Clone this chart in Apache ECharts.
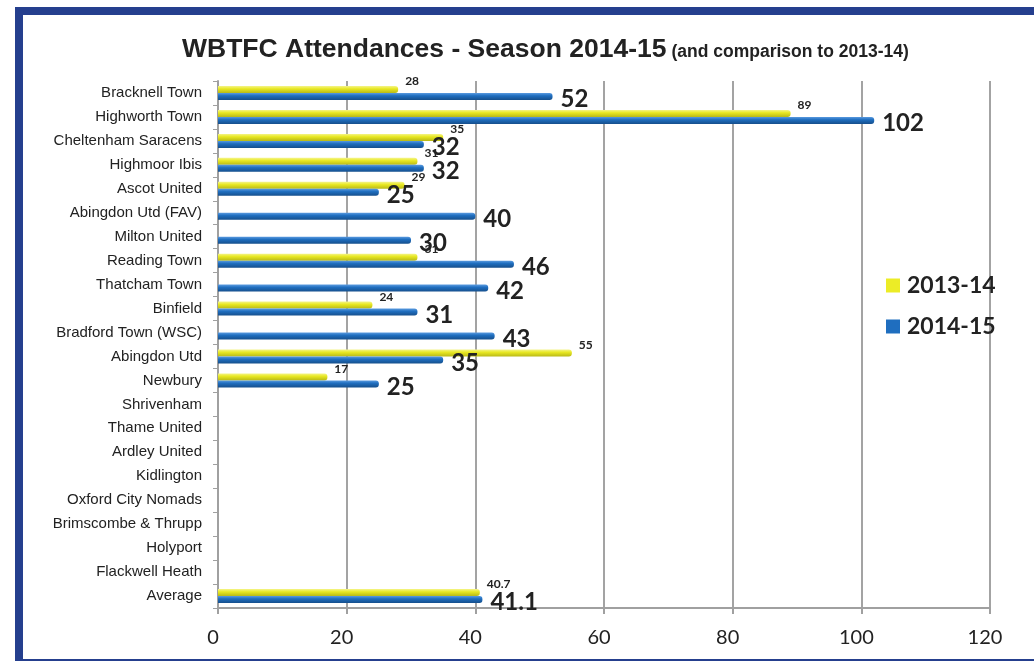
<!doctype html>
<html>
<head>
<meta charset="utf-8">
<title>WBTFC Attendances</title>
<script src="https://cdn.jsdelivr.net/npm/echarts@6/dist/echarts.min.js"></script>
<style>
  html, body { margin: 0; padding: 0; background: #fff; }
  #container { width: 1034px; height: 661px; }
</style>
</head>
<body>
<div id="container"></div>
<script type="text/javascript">
// teams, top to bottom
var teams = ['Bracknell Town', 'Highworth Town', 'Cheltenham Saracens', 'Highmoor Ibis', 'Ascot United',
  'Abingdon Utd (FAV)', 'Milton United', 'Reading Town', 'Thatcham Town', 'Binfield',
  'Bradford Town (WSC)', 'Abingdon Utd', 'Newbury', 'Shrivenham', 'Thame United', 'Ardley United',
  'Kidlington', 'Oxford City Nomads', 'Brimscombe & Thrupp', 'Holyport', 'Flackwell Heath', 'Average'];
// 2013-14 attendances
var season1314 = [28, 89, 35, 31, 29, null, null, 31, null, 24, null, 55, 17,
  null, null, null, null, null, null, null, null, 40.7];
// 2014-15 attendances
var season1415 = [52, 102, 32, 32, 25, 40, 30, 46, 42, 31, 43, 35, 25,
  null, null, null, null, null, null, null, null, 41.1];
var xTicks = [0, 20, 40, 60, 80, 100, 120];

var yellow = new echarts.graphic.LinearGradient(0, 0, 0, 1, [
  { offset: 0, color: '#f4f48a' }, { offset: 0.4, color: '#e8e823' }, { offset: 1, color: '#b9b916' }]);
var blue = new echarts.graphic.LinearGradient(0, 0, 0, 1, [
  { offset: 0, color: '#5b9be0' }, { offset: 0.4, color: '#1f6ebf' }, { offset: 1, color: '#164f8c' }]);

var option = {
  backgroundColor: '#fff',
  animation: false,
  title: {
    left: 177,
    top: 31,
    text: '{a|WBTFC Attendances - Season 2014-15} {b|(and comparison to 2013-14)}',
    textStyle: {
      rich: {
        a: { fontFamily: 'Liberation Sans', fontWeight: 'bold', fontSize: 26.5, color: '#222' },
        b: { fontFamily: 'Liberation Sans', fontWeight: 'bold', fontSize: 17.5, color: '#222', padding: [5, 0, 0, 0] }
      }
    }
  },
  legend: {
    orient: 'vertical',
    left: 881,
    top: 269,
    itemWidth: 14,
    itemHeight: 14,
    itemGap: 18,
    icon: 'rect',
    data: [
      { name: '2013-14', itemStyle: { color: '#ecec26' } },
      { name: '2014-15', itemStyle: { color: '#1f6ebf' } }
    ],
    textStyle: { fontFamily: 'Lato', fontWeight: 'bold', fontSize: 23, color: '#222', padding: [0, 0, 0, 2] }
  },
  grid: { left: 218, right: 44, top: 81, bottom: 53, containLabel: false },
  xAxis: {
    type: 'value',
    min: 0,
    max: 120,
    interval: 20,
    axisLine: { show: true, lineStyle: { color: '#a0a0a0', width: 2 } },
    axisTick: { show: true, length: 6, lineStyle: { color: '#a0a0a0', width: 2 } },
    splitLine: { show: true, lineStyle: { color: '#a3a3a3', width: 2 } },
    axisLabel: {
      margin: 20,
      padding: [0, 10, 0, 0],
      fontFamily: 'Lato',
      fontSize: 20,
      color: '#222',
      formatter: function (v) { return xTicks.indexOf(v) >= 0 ? String(v) : ''; }
    }
  },
  yAxis: {
    type: 'category',
    inverse: true,
    data: teams,
    axisLine: { show: true, lineStyle: { color: '#a0a0a0', width: 2 } },
    axisTick: { show: true, length: 5, lineStyle: { color: '#a0a0a0' } },
    axisLabel: { margin: 16, fontFamily: 'Liberation Sans', fontSize: 15, color: '#222' }
  },
  series: [{
    name: '2013-14',
    type: 'bar',
    data: season1314,
    barWidth: 7,
    barGap: '0%',
    itemStyle: { color: yellow, borderRadius: [0, 3, 3, 0] },
    label: {
      show: true,
      position: 'right',
      offset: [2, -8],
      fontFamily: 'Lato',
      fontWeight: 'bold',
      fontSize: 12,
      color: '#222'
    }
  }, {
    name: '2014-15',
    type: 'bar',
    data: season1415,
    barWidth: 7,
    itemStyle: { color: blue, borderRadius: [0, 3, 3, 0] },
    label: {
      show: true,
      position: 'right',
      offset: [3, 3],
      fontFamily: 'Lato',
      fontWeight: 'bold',
      fontSize: 24,
      color: '#222'
    }
  }],
  graphic: [{
    type: 'rect',
    silent: true,
    z: 100,
    shape: { x: 19, y: 11, width: 1100, height: 652 },
    style: { fill: 'none', stroke: '#253f8e', lineWidth: 8 }
  }]
};

var myChart = echarts.init(document.getElementById('container'));
myChart.setOption(option);
</script>
</body>
</html>
